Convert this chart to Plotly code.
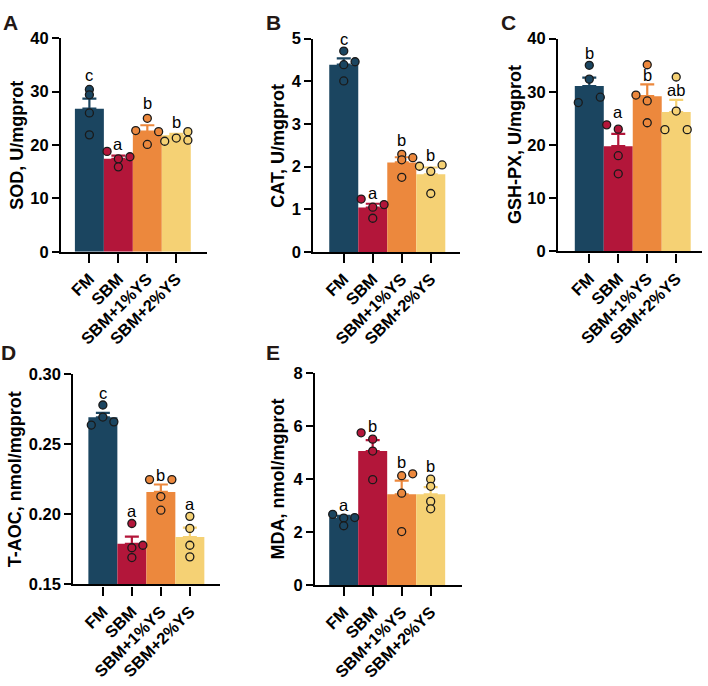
import plotly.graph_objects as go

W, H = 708, 686

groups = ["FM", "SBM", "SBM+1%YS", "SBM+2%YS"]
colors = ["#1b4560", "#b3163a", "#ec883d", "#f5d174"]

# ---- Panel A: SOD ----
sod_mean = [26.8, 17.4, 22.5, 21.8]
sod_sem = [1.9, 0.6, 1.2, 0.3]
sod_points = [[30.4, 29.4, 26.0, 21.9], [18.8, 17.4, 17.8, 15.9],
              [25.0, 22.7, 22.5, 20.1], [20.7, 21.3, 22.5, 20.9]]
sod_jitter = [[0, 0, 0, 0], [-0.39, 0, 0.40, 0], [0, -0.40, 0.39, 0], [-0.40, 0, 0.40, 0.40]]
sod_letters = ["c", "a", "b", "b"]
sod_letter_y = [31.8, 18.8, 26.5, 23.0]

# ---- Panel B: CAT ----
cat_mean = [4.39, 1.04, 2.10, 1.82]
cat_sem = [0.15, 0.09, 0.12, 0.16]
cat_points = [[4.71, 4.39, 4.46, 4.01], [1.24, 1.05, 1.11, 0.79],
              [2.29, 2.16, 2.21, 1.75], [2.01, 1.89, 2.04, 1.37]]
cat_jitter = [[0, 0, 0.39, 0], [-0.40, 0, 0.39, 0], [0, 0, 0.38, 0], [-0.39, 0, 0.39, 0]]
cat_letters = ["c", "a", "b", "b"]
cat_letter_y = [4.82, 1.21, 2.46, 2.10]

# ---- Panel C: GSH-PX ----
gsh_mean = [31.1, 19.8, 29.2, 26.2]
gsh_sem = [1.6, 2.3, 2.2, 2.3]
gsh_points = [[35.0, 32.4, 28.0, 29.0], [23.8, 23.0, 18.0, 14.6],
              [35.1, 29.4, 28.3, 24.2], [32.8, 26.4, 22.9, 22.9]]
gsh_jitter = [[0, 0, -0.38, 0.38], [-0.40, 0, 0, 0], [0, -0.39, 0, 0], [0, 0, -0.39, 0.38]]
gsh_letters = ["b", "a", "b", "ab"]
gsh_letter_y = [36.0, 24.9, 31.9, 29.0]

# ---- Panel D: T-AOC ----
taoc_mean = [0.2692, 0.179, 0.216, 0.1838]
taoc_sem = [0.0032, 0.0052, 0.0053, 0.0067]
taoc_points = [[0.278, 0.2694, 0.2637, 0.266], [0.1935, 0.178, 0.1762, 0.1692],
               [0.2248, 0.2248, 0.2127, 0.203], [0.1986, 0.190, 0.178, 0.1697]]
taoc_jitter = [[0, 0, -0.40, 0.38], [0, 0.38, 0, 0], [-0.39, 0.38, 0, 0], [0, 0, 0, 0]]
taoc_letters = ["c", "a", "b", "a"]
taoc_letter_y = [0.2815, 0.1974, 0.2231, 0.2021]

# ---- Panel E: MDA ----
mda_mean = [2.53, 5.06, 3.43, 3.43]
mda_sem = [0.08, 0.41, 0.51, 0.27]
mda_points = [[2.67, 2.53, 2.55, 2.24], [5.75, 5.51, 5.06, 3.98],
              [4.13, 4.20, 3.47, 2.02], [4.00, 3.73, 3.16, 2.88]]
mda_jitter = [[-0.38, 0, 0.38, 0], [-0.40, 0, 0, 0], [0, 0.38, 0, 0], [0, 0, 0, 0]]
mda_letters = ["a", "b", "b", "b"]
mda_letter_y = [2.75, 5.76, 4.37, 4.22]

FONT = "Liberation Sans, Arial, sans-serif"

panels = [
    dict(tag="A", title="SOD, U/mgprot", mean=sod_mean, sem=sod_sem, pts=sod_points, jit=sod_jitter,
         let=sod_letters, lety=sod_letter_y, yr=[0, 40], yt=[0, 10, 20, 30, 40], fmt=None,
         xpx=(61, 207), ypx=(30, 249.3), xr=[-0.98, 4.06], tag_px=(1, 14), title_x=16.7),
    dict(tag="B", title="CAT, U/mgprot", mean=cat_mean, sem=cat_sem, pts=cat_points, jit=cat_jitter,
         let=cat_letters, lety=cat_letter_y, yr=[0, 5], yt=[0, 1, 2, 3, 4, 5], fmt=None,
         xpx=(313.3, 459.5), ypx=(30.5, 249.5), xr=[-1.05, 3.99], tag_px=(264, 14), title_x=278.3),
    dict(tag="C", title="GSH-PX, U/mgprot", mean=gsh_mean, sem=gsh_sem, pts=gsh_points, jit=gsh_jitter,
         let=gsh_letters, lety=gsh_letter_y, yr=[0, 40], yt=[0, 10, 20, 30, 40], fmt=None,
         xpx=(558, 702), ypx=(30.5, 249), xr=[-1.08, 3.89], tag_px=(499, 14), title_x=515),
    dict(tag="D", title="T-AOC, nmol/mgprot", mean=taoc_mean, sem=taoc_sem, pts=taoc_points, jit=taoc_jitter,
         let=taoc_letters, lety=taoc_letter_y, yr=[0.15, 0.30], yt=[0.15, 0.20, 0.25, 0.30], fmt=".2f",
         xpx=(73.3, 220), ypx=(375, 591), xr=[-1.02, 4.04], tag_px=(-1, 353), title_x=15),
    dict(tag="E", title="MDA, nmol/mgprot", mean=mda_mean, sem=mda_sem, pts=mda_points, jit=mda_jitter,
         let=mda_letters, lety=mda_letter_y, yr=[0, 8], yt=[0, 2, 4, 6, 8], fmt=None,
         xpx=(315, 461.7), ypx=(374, 591.6), xr=[-0.99, 4.07], tag_px=(264, 353), title_x=278.3),
]

fig = go.Figure()
layout = {}
annotations = []

for k, p in enumerate(panels):
    sfx = "" if k == 0 else str(k + 1)
    xa, ya = "x" + sfx, "y" + sfx
    for i in range(4):
        fig.add_trace(go.Bar(
            x=[i], y=[p["mean"][i]], width=1, xaxis=xa, yaxis=ya,
            marker=dict(color=colors[i], line=dict(width=0)),
            error_y=dict(type="data", array=[p["sem"][i]], arrayminus=[0], symmetric=False,
                         color=colors[i], thickness=2.2, width=7),
            showlegend=False, hoverinfo="skip"))
    for i in range(4):
        fig.add_trace(go.Scatter(
            x=[i + j for j in p["jit"][i]], y=p["pts"][i], mode="markers", xaxis=xa, yaxis=ya,
            marker=dict(color=colors[i], size=8, line=dict(color="#1a1a1a", width=1.3)),
            showlegend=False, hoverinfo="skip", cliponaxis=False))
        annotations.append(dict(
            x=i, y=p["lety"][i], xref=xa, yref=ya, text=p["let"][i], showarrow=False,
            yanchor="bottom", yshift=-4, font=dict(family=FONT, size=16.5, color="black")))

    x0, x1 = p["xpx"]
    yt_px, yb_px = p["ypx"]
    layout["xaxis" + sfx] = dict(
        domain=[x0 / W, x1 / W], range=p["xr"], anchor=ya,
        tickmode="array", tickvals=[0, 1, 2, 3], ticktext=groups, tickangle=-45,
        ticks="outside", ticklen=9, tickwidth=2.2, tickcolor="black",
        showline=True, linewidth=2.2, linecolor="black", showgrid=False, zeroline=False,
        tickfont=dict(family=FONT, size=16.5, color="black", weight="bold"), fixedrange=True)
    yax = dict(
        domain=[1 - yb_px / H, 1 - yt_px / H], range=p["yr"], anchor=xa,
        tickmode="array", tickvals=p["yt"],
        ticks="outside", ticklen=7, tickwidth=2.2, tickcolor="black",
        showline=True, linewidth=2.2, linecolor="black", showgrid=False, zeroline=False,
        tickfont=dict(family=FONT, size=16.5, color="black", weight="bold"), fixedrange=True)
    if p["fmt"]:
        yax["tickformat"] = p["fmt"]
    layout["yaxis" + sfx] = yax

    # axis title
    annotations.append(dict(
        x=p["title_x"] / W, y=1 - ((yt_px + yb_px) / 2) / H, xref="paper", yref="paper",
        text=p["title"], textangle=-90, showarrow=False, xanchor="center", yanchor="middle",
        font=dict(family=FONT, size=18, color="black", weight="bold")))
    # panel tag
    annotations.append(dict(
        x=p["tag_px"][0] / W, y=1 - p["tag_px"][1] / H, xref="paper", yref="paper",
        text=p["tag"], showarrow=False, xanchor="left", yanchor="middle",
        font=dict(family=FONT, size=21, color="#231815", weight="bold")))

fig.update_layout(
    width=W, height=H, margin=dict(l=0, r=0, t=0, b=0),
    paper_bgcolor="white", plot_bgcolor="white",
    barmode="overlay", annotations=annotations, **layout)

fig.write_html("out.html")
